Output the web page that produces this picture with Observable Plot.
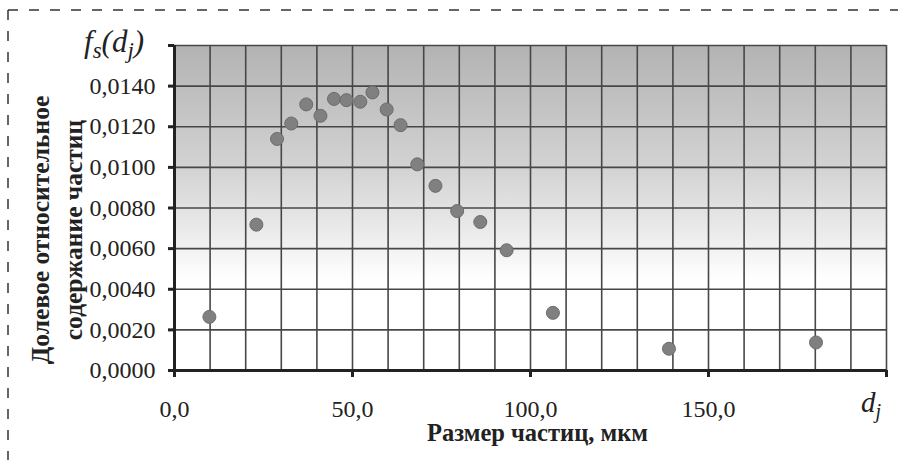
<!DOCTYPE html>
<html><head><meta charset="utf-8">
<script src="https://cdn.jsdelivr.net/npm/d3@7"></script>
<script src="https://cdn.jsdelivr.net/npm/@observablehq/plot@0.6"></script>
<style>body{margin:0;background:#fff}</style>
</head><body><div id="chart"></div>
<script>
// Particle size, μm
const sizes = [9.8, 23.0, 28.8, 32.8, 37.0, 41.0, 44.8, 48.3, 52.2, 55.6, 59.6, 63.5, 68.2, 73.3, 79.4, 85.9, 93.3, 106.3, 138.9, 180.2];
// Relative share f_s(d_j)
const shares = [0.00264, 0.00718, 0.01140, 0.01216, 0.01310, 0.01254, 0.01337, 0.01331, 0.01323, 0.01369, 0.01285, 0.01208, 0.01015, 0.00909, 0.00785, 0.00731, 0.00592, 0.00284, 0.00107, 0.00138];
const xTicks = [0, 50, 100, 150, 200];
const xGrid = [0,10,20,30,40,50,60,70,80,90,100,110,120,130,140,150,160,170,180,190,200];
const yTicks = [0, 0.002, 0.004, 0.006, 0.008, 0.010, 0.012, 0.014, 0.016];
const xLabel = "Размер частиц, мкм";
const yLabel = "Долевое относительное\nсодержание частиц";

const data = sizes.map((s, i) => ({size: s, share: shares[i]}));
const fmtX = v => v >= 200 ? "" : d3.format(".1f")(v).replace(".", ",");
const fmtY = v => v > 0.0155 ? "" : d3.format(".4f")(v).replace(".", ",");

const plot = Plot.plot({
  width: 898, height: 460,
  marginLeft: 174, marginRight: 12, marginTop: 45, marginBottom: 90,
  style: {fontFamily: "Liberation Serif", fontSize: "24px", color: "#222", background: "#fff"},
  x: {domain: [0, 200]},
  y: {domain: [0, 0.016]},
  marks: [
    Plot.frame({fill: "url(#bgGrad)", stroke: "#c8c8c8"}),
    Plot.gridX(xGrid, {stroke: "#474747", strokeOpacity: 1, strokeWidth: 1.6}),
    Plot.gridY(yTicks, {stroke: "#474747", strokeOpacity: 1, strokeWidth: 1.6}),
    Plot.axisX(xTicks, {tickSize: 7, tickPadding: 22, strokeWidth: 3, stroke: "#222", tickFormat: fmtX, label: null, fill: "#222", fontSize: 24}),
    Plot.axisY(yTicks, {tickSize: 6, tickPadding: 13, strokeWidth: 3, stroke: "#222", tickFormat: fmtY, label: null, fill: "#222", fontSize: 24}),
    Plot.ruleX([0], {stroke: "#222", strokeWidth: 3}),
    Plot.ruleY([0], {stroke: "#222", strokeWidth: 3}),
    Plot.dot(data, {x: "size", y: "share", r: 6.5, fill: "#808080", stroke: "#6c6c6c", strokeWidth: 1}),
    Plot.text([yLabel], {frameAnchor: "left", textAnchor: "middle", dx: -120, dy: 22, rotate: -90, fontWeight: "bold", fontSize: 25.5, lineHeight: 1.3, fill: "#222"}),
    Plot.text([xLabel], {frameAnchor: "bottom", textAnchor: "middle", dx: 7, dy: 63, lineAnchor: "middle", fontWeight: "bold", fontSize: 24.5, fill: "#222"})
  ]
});

const svg = d3.select(plot);
const defs = svg.insert("defs", ":first-child");
const g = defs.append("linearGradient").attr("id", "bgGrad").attr("x1", 0).attr("y1", 0).attr("x2", 0).attr("y2", 1);
[[0, "#b3b3b3"], [0.38, "#d3d3d3"], [0.6, "#eeeeee"], [0.72, "#ffffff"], [1, "#ffffff"]].forEach(([o, c]) =>
  g.append("stop").attr("offset", o).attr("stop-color", c));

// dashed outer border (top and left)
svg.append("path").attr("d", "M8,10H898M8,10V460").attr("fill", "none")
  .attr("stroke", "#333").attr("stroke-width", 1.5).attr("stroke-dasharray", "10,11");

// axis symbols
const t1 = svg.append("text").attr("x", 84).attr("y", 52).attr("font-family", "Liberation Serif")
  .attr("text-anchor", "start").attr("font-style", "italic").attr("font-size", 31).attr("fill", "#222");
t1.append("tspan").text("f");
t1.append("tspan").attr("dy", 6).attr("font-size", 23).text("s");
t1.append("tspan").attr("dy", -6).text("(d");
t1.append("tspan").attr("dy", 6).attr("font-size", 23).text("j");
t1.append("tspan").attr("dy", -6).text(")");

const t2 = svg.append("text").attr("x", 861).attr("y", 412).attr("font-family", "Liberation Serif")
  .attr("text-anchor", "start").attr("font-style", "italic").attr("font-size", 29).attr("fill", "#222");
t2.append("tspan").text("d");
t2.append("tspan").attr("dy", 6).attr("font-size", 20).text("j");

document.getElementById("chart").appendChild(plot);
</script>
</body></html>
